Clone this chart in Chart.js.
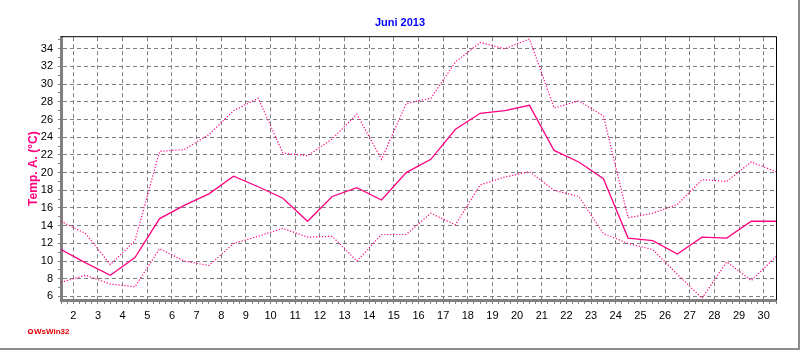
<!DOCTYPE html>
<html>
<head>
<meta charset="utf-8">
<script src="https://cdn.jsdelivr.net/npm/chart.js@4"></script>
<style>
  html, body { margin: 0; padding: 0; background: #fff; }
  #wrap { position: relative; width: 800px; height: 350px; }
</style>
</head>
<body>
<div id="wrap"><canvas id="tempChart"></canvas></div>
<script>
// daily values, plotted at mid-day
const days = [1.5, 2.5, 3.5, 4.5, 5.5, 6.5, 7.5, 8.5, 9.5, 10.5, 11.5, 12.5, 13.5, 14.5, 15.5,
  16.5, 17.5, 18.5, 19.5, 20.5, 21.5, 22.5, 23.5, 24.5, 25.5, 26.5, 27.5, 28.5, 29.5, 30.5];
const tempMax = [14.5, 13.1, 9.6, 12.3, 22.4, 22.6, 24.3, 27.0, 28.4, 22.2, 21.9, 23.8, 26.6, 21.5, 27.8,
  28.4, 32.5, 34.7, 34.0, 35.1, 27.3, 28.1, 26.4, 14.9, 15.4, 16.4, 19.2, 19.0, 21.2, 20.1];
const tempMean = [11.3, 9.8, 8.4, 10.4, 14.8, 16.3, 17.6, 19.6, 18.4, 17.1, 14.5, 17.3, 18.3, 16.9, 20.0,
  21.5, 24.9, 26.7, 27.0, 27.6, 22.5, 21.2, 19.3, 12.6, 12.3, 10.8, 12.7, 12.6, 14.5, 14.5];
const tempMin = [7.6, 8.4, 7.4, 7.1, 11.4, 10.0, 9.5, 12.0, 12.8, 13.7, 12.7, 12.8, 10.0, 13.0, 13.0,
  15.4, 14.1, 18.6, 19.5, 20.1, 18.0, 17.3, 13.1, 12.0, 11.3, 8.5, 5.8, 9.9, 7.8, 10.5];

const dayLabels = [2, 3, 4, 5, 6, 7, 8, 9, 10, 11, 12, 13, 14, 15, 16, 17, 18, 19, 20, 21, 22, 23, 24, 25, 26, 27, 28, 29, 30];
const tempLabels = [6, 8, 10, 12, 14, 16, 18, 20, 22, 24, 26, 28, 30, 32, 34];

const pink = '#ff0080';
const gray = '#808080';

Chart.defaults.font.family = '"Liberation Sans", Arial, sans-serif';
Chart.defaults.color = '#000';

const toPoints = (vals) => vals.map((v, i) => ({ x: days[i], y: v }));

const frame = {
  id: 'frame',
  afterDraw(chart) {
    const { ctx, chartArea: a } = chart;
    ctx.save();
    // plot outline (top/right)
    ctx.strokeStyle = '#000';
    ctx.lineWidth = 1;
    ctx.beginPath();
    ctx.moveTo(a.left, a.top - 0.5);
    ctx.lineTo(a.right + 0.5, a.top - 0.5);
    ctx.lineTo(a.right + 0.5, a.bottom);
    ctx.stroke();
    // picture frame
    ctx.fillStyle = '#8c8c8c';
    ctx.fillRect(798, 0, 2, 350);
    ctx.fillRect(0, 348, 800, 2);
    // program mark
    ctx.strokeStyle = '#e00000';
    ctx.lineWidth = 1.2;
    ctx.beginPath();
    ctx.arc(30.5, 331.5, 2, 0, Math.PI * 2);
    ctx.stroke();
    ctx.fillStyle = '#e00000';
    ctx.font = 'bold 8px "Liberation Sans", Arial, sans-serif';
    ctx.textBaseline = 'middle';
    ctx.fillText('WsWin32', 34, 332);
    ctx.restore();
  }
};

new Chart(document.getElementById('tempChart'), {
  type: 'line',
  data: {
    datasets: [
      { data: toPoints(tempMax), borderColor: pink, borderWidth: 1.2, borderDash: [1.2, 1.8] },
      { data: toPoints(tempMean), borderColor: pink, borderWidth: 1.3 },
      { data: toPoints(tempMin), borderColor: pink, borderWidth: 1.2, borderDash: [1.2, 1.8] }
    ]
  },
  options: {
    responsive: true,
    maintainAspectRatio: false,
    animation: false,
    elements: { point: { radius: 0 }, line: { tension: 0, fill: false } },
    layout: { padding: 0 },
    plugins: {
      legend: { display: false },
      tooltip: { enabled: false },
      title: {
        display: true,
        text: 'Juni 2013',
        color: '#0000ff',
        font: { size: 11, weight: 'bold' },
        padding: { top: 16, bottom: 8 }
      }
    },
    scales: {
      x: {
        type: 'linear',
        min: 1.5,
        max: 30.5,
        afterBuildTicks: (scale) => {
          const t = [];
          for (let v = 1.5; v <= 30.5; v += 0.25) t.push({ value: v });
          scale.ticks = t;
        },
        afterFit: (scale) => {
          scale.height = 50;
          scale.paddingRight = 24;
        },
        ticks: {
          autoSkip: false,
          maxRotation: 0,
          minRotation: 0,
          padding: 5,
          font: { size: 11 },
          callback: (v) => (dayLabels.includes(v) ? String(v) : '')
        },
        grid: {
          color: (c) => (c.tick && dayLabels.includes(c.tick.value) ? gray : 'transparent'),
          tickColor: gray,
          tickLength: 4,
          lineWidth: 1
        },
        border: { display: true, color: gray, width: 3, dash: [4, 3] }
      },
      y: {
        type: 'linear',
        min: 5.6,
        max: 35.3,
        afterBuildTicks: (scale) => {
          const t = [];
          for (let v = 6; v <= 35; v += 1) t.push({ value: v });
          scale.ticks = t;
        },
        afterFit: (scale) => { scale.width = 61; },
        ticks: {
          autoSkip: false,
          padding: 5,
          font: { size: 11 },
          callback: (v) => (tempLabels.includes(v) ? String(v) : '')
        },
        grid: {
          color: (c) => (c.tick && tempLabels.includes(c.tick.value) ? gray : 'transparent'),
          tickColor: gray,
          tickLength: 3,
          lineWidth: 1
        },
        border: { display: true, color: gray, width: 3, dash: [4, 3] },
        title: {
          display: true,
          text: 'Temp. A. (°C)',
          color: pink,
          font: { size: 12, weight: 'bold' },
          padding: { top: 26, bottom: 0 }
        }
      }
    }
  },
  plugins: [frame]
});
</script>
</body>
</html>
